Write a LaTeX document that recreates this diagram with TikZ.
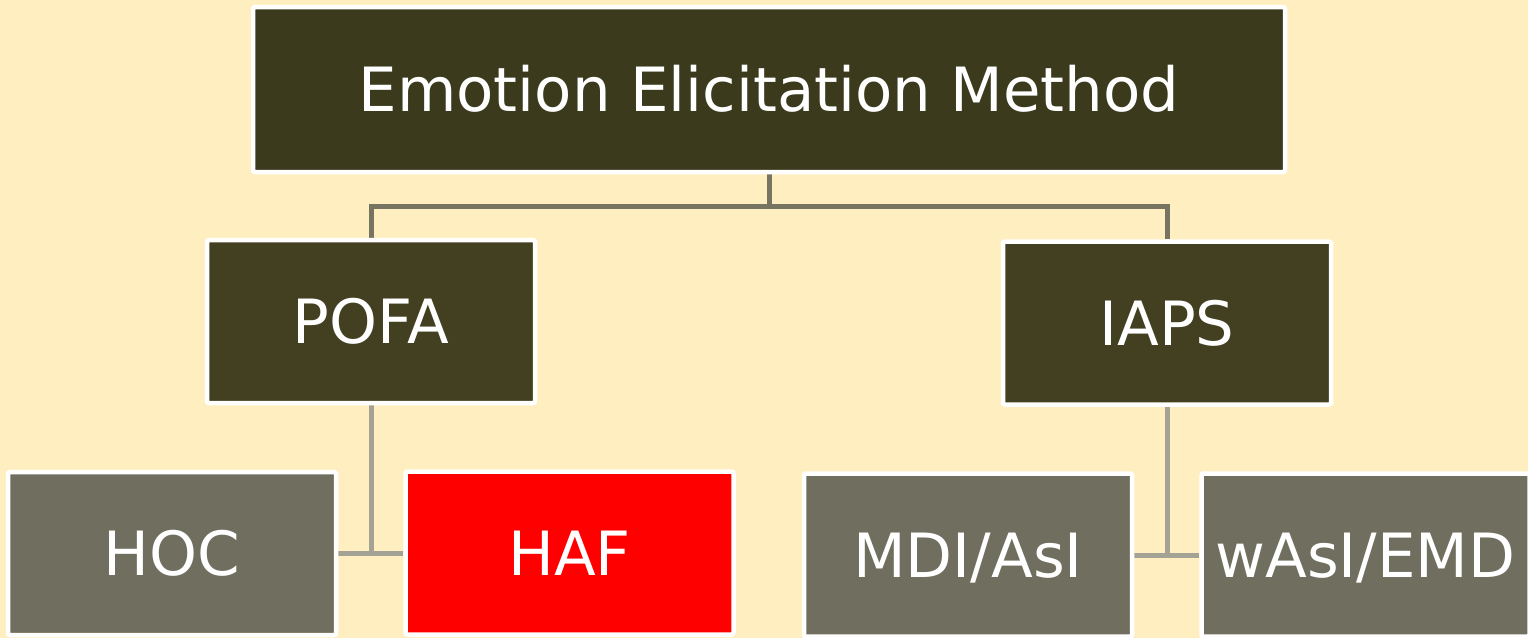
\documentclass[tikz,border=0pt]{standalone}
\usepackage{fontspec}
\setmainfont{DejaVu Sans}
\pgfdeclarelayer{bg}
\pgfsetlayers{bg,main}
\definecolor{paper}{HTML}{FFEEC0}
\definecolor{darkolive}{HTML}{3C3A1D}
\definecolor{midolive}{HTML}{424021}
\definecolor{stone}{HTML}{706E5F}
\definecolor{linkdark}{HTML}{777562}
\definecolor{linklight}{HTML}{A4A294}
\tikzset{
  box/.style={draw=white, line width=4.5pt, rounded corners=2pt, inner sep=0pt,
    text=white, font=\fontsize{61}{70}\selectfont,
    text height=44.5pt, text depth=0pt},
  rootbox/.style={box, fill=darkolive, minimum width=1032pt, minimum height=165pt},
  midbox/.style={box, fill=midolive, minimum width=328pt, minimum height=163pt},
  leafbox/.style={box, fill=stone, minimum width=328pt, minimum height=163pt},
  hotbox/.style={leafbox, fill=red},
  linkA/.style={draw=linkdark, line width=5pt},
  linkB/.style={draw=linklight, line width=5pt},
}
\begin{document}
\begin{tikzpicture}[x=1pt, y=-1pt]
  \begin{pgfonlayer}{bg}
    \fill[paper] (0,0) rectangle (1528,638);
  \end{pgfonlayer}
  \useasboundingbox (0,0) rectangle (1528,638);

  \node[rootbox] (root) at (769,89.5) {Emotion Elicitation Method};
  \node[midbox] (pofa) at (371,321.5) {POFA};
  \node[midbox] (iaps) at (1167,323) {IAPS};
  \node[leafbox] (hoc) at (172,553.5) {HOC};
  \node[hotbox] (haf) at (569.5,553) {HAF};
  \node[leafbox] (mdi) at (968,555) {MDI/AsI};
  \node[leafbox] (wasi) at (1365.5,555) {wAsI/EMD};

  \coordinate (split) at (769,206);
  \begin{pgfonlayer}{bg}
    \draw[linkA] (root.south) -- (split);
    \draw[linkA] (split) -| (pofa.north);
    \draw[linkA] (split) -| (iaps.north);
    \draw[linkB] (pofa.south) |- (hoc.east);
    \draw[linkB] (pofa.south) |- (haf.west);
    \draw[linkB] (iaps.south) |- (mdi.east);
    \draw[linkB] (iaps.south) |- (wasi.west);
  \end{pgfonlayer}
\end{tikzpicture}
\end{document}
